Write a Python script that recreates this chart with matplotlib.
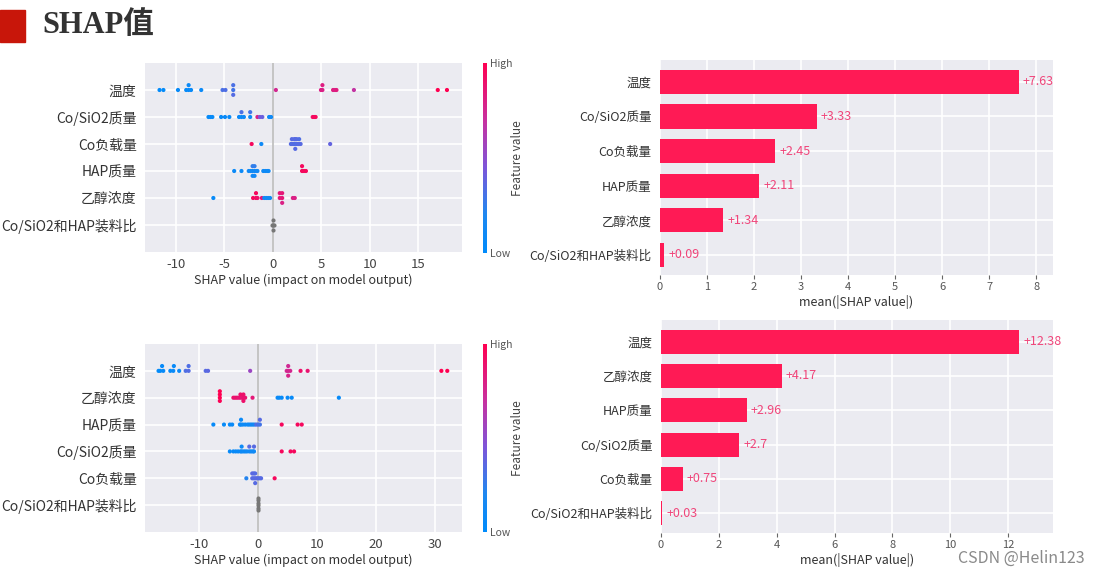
import numpy as np
import matplotlib
matplotlib.use('Agg')
import matplotlib.pyplot as plt
from matplotlib.colors import LinearSegmentedColormap
from matplotlib.patches import Rectangle
import matplotlib.colorbar as mcolorbar

plt.rcParams['font.family'] = ['Noto Sans CJK SC', 'DejaVu Sans']
plt.rcParams['axes.unicode_minus'] = False

# ---- data: model 1 (top) ----
feat_top = ['温度', 'Co/SiO2质量', 'Co负载量', 'HAP质量', '乙醇浓度', 'Co/SiO2和HAP装料比']
shap_top = [
    [-11.7, -11.3, -9.8, -8.95, -8.7, -8.7, -8.45, -7.4, -5.2, -4.9, -4.1, -4.1, -4.1,
     0.3, 4.95, 5.1, 5.1, 6.2, 6.4, 6.55, 8.35, 17.0, 17.95],
    [-6.65, -6.45, -6.25, -5.35, -4.95, -4.5, -3.5, -3.25, -3.25, -3.0, -2.35, -2.35,
     -1.6, -1.35, -1.1, -0.4, -0.2, 4.1, 4.25, 4.4],
    [-2.2, -1.2, 1.85, 1.95, 1.95, 2.1, 2.2, 2.2, 2.3, 2.3, 2.3, 2.45, 2.45, 2.6,
     2.7, 2.7, 2.85, 5.9],
    [-4.0, -3.25, -2.5, -2.3, -2.1, -2.1, -2.1, -1.9, -1.9, -1.9, -1.7, -1.6, -1.0,
     -0.8, -0.6, -0.45, 3.0, 3.0, 3.2, 3.4],
    [-6.15, -2.05, -1.75, -1.75, -1.6, -1.15, -0.9, -0.7, -0.5, -0.3, 0.7, 0.7,
     0.95, 0.95, 0.95, 2.05, 2.25],
    [0.0, 0.0, 0.0, -0.15, 0.15],
]
fval_top = [
    [0.02, 0.03, 0.05, 0.05, 0.05, 0.08, 0.06, 0.08, 0.32, 0.33, 0.3, 0.32, 0.34,
     0.75, 0.8, 0.8, 0.82, 0.82, 0.8, 0.83, 0.68, 1.0, 1.0],
    [0.05, 0.05, 0.05, 0.06, 0.06, 0.07, 0.08, 0.08, 0.32, 0.1, 0.1, 0.3,
     0.8, 0.45, 0.4, 0.1, 0.1, 0.92, 0.95, 0.95],
    [0.95, 0.1, 0.35, 0.33, 0.35, 0.35, 0.34, 0.35, 0.33, 0.35, 0.35, 0.34, 0.35, 0.34,
     0.35, 0.33, 0.35, 0.38],
    [0.08, 0.08, 0.1, 0.12, 0.1, 0.25, 0.12, 0.12, 0.25, 0.12, 0.1, 0.12, 0.1,
     0.1, 0.08, 0.1, 0.95, 0.95, 0.95, 0.95],
    [0.05, 0.95, 0.95, 0.95, 0.9, 0.85, 0.1, 0.1, 0.1, 0.1, 0.85, 0.85,
     0.85, 0.85, 0.8, 0.8, 0.8],
    [np.nan] * 5,
]
imp_top = [7.63, 3.33, 2.45, 2.11, 1.34, 0.09]

# ---- data: model 2 (bottom) ----
feat_bot = ['温度', '乙醇浓度', 'HAP质量', 'Co/SiO2质量', 'Co负载量', 'Co/SiO2和HAP装料比']
shap_bot = [
    [-16.9, -16.6, -16.3, -16.1, -14.9, -14.4, -14.3, -13.4, -12.3, -11.8, -11.8,
     -8.9, -8.5, -1.35, 4.85, 5.1, 5.1, 5.1, 5.45, 7.2, 8.4, 31.1, 32.1],
    [-6.5, -6.5, -6.5, -6.5, -4.2, -3.9, -3.6, -3.3, -3.0, -3.0, -2.7, -2.5, -2.5,
     -2.5, -2.2, -0.95, 3.3, 3.6, 4.0, 5.0, 5.7, 13.7],
    [-7.6, -5.8, -4.8, -4.4, -3.1, -2.9, -2.9, -2.6, -2.2, -1.8, -1.5, -1.2, -0.9,
     -0.6, -0.3, 0.0, 0.3, 0.3, 4.0, 6.7, 7.4],
    [-4.8, -4.2, -3.8, -3.4, -3.0, -2.8, -2.8, -2.5, -2.2, -1.9, -1.5, -1.5, -1.2,
     -0.9, -0.7, -0.7, 4.0, 5.5, 6.1],
    [-2.0, -1.0, -1.0, -0.75, -0.75, -0.5, -0.5, -0.5, -0.25, 0.0, 0.25, 0.5, 2.8],
    [0.0, 0.0, 0.0, 0.0, 0.0, 0.0],
]
fval_bot = [
    [0.03, 0.03, 0.04, 0.05, 0.05, 0.06, 0.06, 0.08, 0.33, 0.34, 0.33,
     0.35, 0.36, 0.55, 0.75, 0.76, 0.74, 0.78, 0.76, 0.9, 0.88, 1.0, 1.0],
    [1.0, 1.0, 0.98, 1.0, 0.9, 0.88, 0.9, 0.86, 0.88, 0.9, 0.85, 0.88, 0.9,
     0.9, 0.88, 0.85, 0.08, 0.06, 0.05, 0.06, 0.05, 0.05],
    [0.05, 0.05, 0.06, 0.06, 0.08, 0.08, 0.08, 0.1, 0.08, 0.1, 0.1, 0.12, 0.1,
     0.15, 0.35, 0.3, 0.3, 0.35, 0.95, 0.95, 0.95],
    [0.05, 0.05, 0.06, 0.06, 0.06, 0.08, 0.08, 0.1, 0.08, 0.1, 0.1, 0.35, 0.1,
     0.12, 0.1, 0.35, 0.95, 0.95, 0.95],
    [0.22, 0.35, 0.35, 0.35, 0.36, 0.35, 0.34, 0.35, 0.36, 0.35, 0.34, 0.35, 0.95],
    [np.nan] * 6,
]
imp_bot = [12.38, 4.17, 2.96, 2.7, 0.75, 0.03]

W, H = 1093, 570
bg = '#ebebf1'
bar_red = '#ff1a55'
cmap = LinearSegmentedColormap.from_list(
    'shap_rb', [(0, '#008bfb'), (0.2, '#1e88f0'), (0.45, '#7d55d9'),
                (0.7, '#c8309f'), (1, '#ff0051')])


def box(left, top, right, bottom):
    return [left / W, 1 - bottom / H, (right - left) / W, (bottom - top) / H]


def beeswarm(ax, names, rows, colors, xlim, xticks):
    n = len(names)
    ax.set_facecolor(bg)
    for i, (vals, cols) in enumerate(zip(rows, colors)):
        pos = n - 1 - i
        vals = np.asarray(vals, float)
        cols = np.asarray(cols, float)
        # shap-style stacking of points that fall in the same bin
        quant = np.round(100 * (vals - vals.min()) / (vals.max() - vals.min() + 1e-8))
        order = np.argsort(quant, kind='stable')
        ys = np.zeros(len(vals))
        layer, last = 0, None
        for j in order:
            if quant[j] != last:
                layer = 0
            ys[j] = np.ceil(layer / 2) * ((layer % 2) * 2 - 1)
            layer += 1
            last = quant[j]
        ys *= 0.9 * (0.4 / np.max(ys + 1))
        ax.axhline(pos, color='white', lw=1.2, zorder=0)
        nan = np.isnan(cols)
        if nan.any():
            ax.scatter(vals[nan], pos + ys[nan], s=9, c='#777777', lw=0, zorder=3)
        if (~nan).any():
            ax.scatter(vals[~nan], pos + ys[~nan], s=9, c=cols[~nan], cmap=cmap,
                       vmin=0, vmax=1, lw=0, zorder=3)
    for t in xticks:
        ax.axvline(t, color='white', lw=1.2, zorder=0)
    ax.axvline(0, color='#bbbbbb', lw=1.2, zorder=1)
    ax.set_xlim(*xlim)
    ax.set_ylim(-1, n)
    ax.set_yticks(range(n))
    ax.set_yticklabels(names[::-1], fontsize=10, color='#333333')
    ax.set_xticks(xticks)
    ax.set_xticklabels([str(t) for t in xticks], fontsize=9.5, color='#444444')
    ax.tick_params(length=0, pad=4)
    ax.tick_params(axis='y', pad=6)
    ax.set_xlabel('SHAP value (impact on model output)', fontsize=9, color='#333333', labelpad=2)
    for s in ax.spines.values():
        s.set_visible(False)


def colorbar(fig, rect):
    cax = fig.add_axes(rect)
    cb = mcolorbar.ColorbarBase(cax, cmap=cmap, ticks=[0, 1])
    cb.outline.set_visible(False)
    cb.set_ticklabels(['Low', 'High'])
    cax.tick_params(length=0, labelsize=7.5, labelcolor='#555555', pad=2)
    cb.set_label('Feature value', fontsize=8.5, color='#444444', labelpad=-1)


def bars(ax, names, vals, xlim, xticks):
    n = len(names)
    pos = np.arange(n)[::-1]
    ax.set_facecolor(bg)
    for t in xticks:
        ax.axvline(t, color='white', lw=1.2, zorder=0)
    for p in pos:
        ax.axhline(p, color='white', lw=1.2, zorder=0)
    ax.barh(pos, vals, height=0.7, color=bar_red, zorder=2)
    for p, v in zip(pos, vals):
        ax.annotate(f'+{v:g}', (v, p), xytext=(3, 0), textcoords='offset points',
                    va='center', ha='left', fontsize=9, color='#f0457a')
    ax.set_xlim(*xlim)
    ax.set_ylim(-0.58, n - 0.37)
    ax.set_yticks(pos)
    ax.set_yticklabels(names, fontsize=9, color='#333333')
    ax.set_xticks(xticks)
    ax.set_xticklabels([str(t) for t in xticks], fontsize=8, color='#555555')
    ax.tick_params(axis='x', length=3, width=0.8, color='#666666', pad=2)
    ax.tick_params(axis='y', length=0, pad=6)
    ax.set_xlabel('mean(|SHAP value|)', fontsize=9, color='#333333', labelpad=2)
    for s in ax.spines.values():
        s.set_visible(False)


fig = plt.figure(figsize=(W / 100, H / 100), dpi=100)

# header
fig.patches.append(Rectangle((0, 1 - 42 / H), 25 / W, 32 / H, transform=fig.transFigure,
                             color='#c8160a', zorder=5))
fig.text(42 / W, 1 - 26 / H, 'SHAP值', fontsize=22, fontweight='bold', color='#333333',
         va='center', family=['Liberation Serif', 'Noto Sans CJK SC'])

ax1 = fig.add_axes(box(145, 63, 462, 252))
beeswarm(ax1, feat_top, shap_top, fval_top, (-13.2, 19.5), [-10, -5, 0, 5, 10, 15])
colorbar(fig, box(483, 63, 487, 253))

ax2 = fig.add_axes(box(660, 60, 1053, 275))
bars(ax2, feat_top, imp_top, (0, 8.36), list(range(0, 9)))

ax3 = fig.add_axes(box(145, 344, 462, 532))
beeswarm(ax3, feat_bot, shap_bot, fval_bot, (-19.2, 34.6), [-10, 0, 10, 20, 30])
colorbar(fig, box(483, 344, 487, 532))

ax4 = fig.add_axes(box(661, 320, 1053, 533))
bars(ax4, feat_bot, imp_bot, (0, 13.55), list(range(0, 13, 2)))

fig.text(958 / W, 1 - 558 / H, 'CSDN @Helin123', fontsize=11.5, color='#8a8a8a', va='center')

fig.savefig('out.png', dpi=100)
